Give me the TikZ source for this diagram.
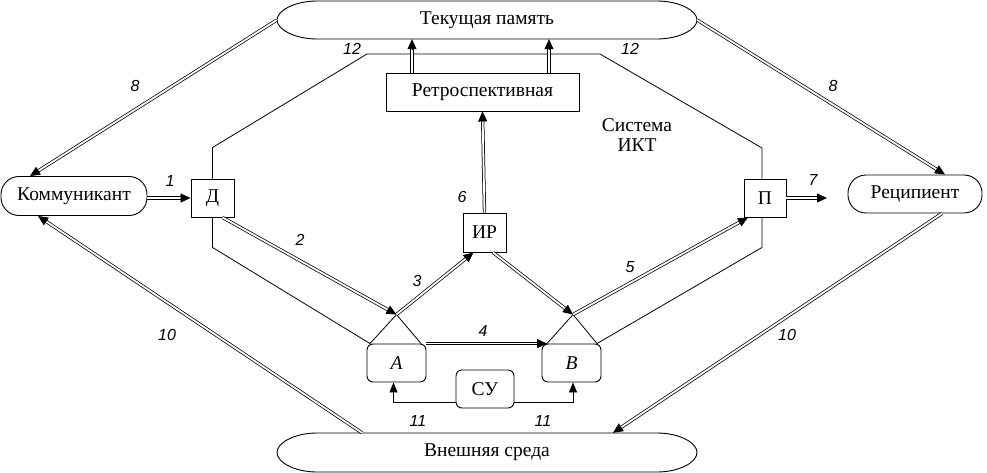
\documentclass[tikz,border=0pt]{standalone}
\usepackage{fontspec}
\setmainfont{Liberation Serif}
\newfontfamily\numfont{Liberation Sans}
\usetikzlibrary{arrows.meta,calc}
\newcommand\dar[2]{%
  \draw[dblline] (#1) -- ($(#2)!9pt!(#1)$);
  \draw[tipl] ($(#2)!10pt!(#1)$) -- (#2);}
\begin{document}
\begin{tikzpicture}[x=1pt,y=-1pt,
  every node/.style={font=\fontsize{19.5}{22}\selectfont},
  bx/.style={draw, line width=0.9pt, inner sep=0pt},
  rbx/.style={bx, rounded corners=6pt},
  stad/.style={bx, rounded corners=18pt},
  dblline/.style={double, double distance=1.8pt, line width=0.75pt},
  tipl/.style={line width=0.8pt, -{Triangle[length=10pt,width=9pt]}},
  thn/.style={line width=0.8pt},
  tarr/.style={thn, -{Triangle[length=10pt,width=8pt]}},
  lbl/.style={font=\numfont\itshape\fontsize{16}{16}\selectfont},
  txt/.style={font=\fontsize{19.5}{22}\selectfont}]
\useasboundingbox (0,0) rectangle (987,473);
% big ellipses
\node[inner sep=0, minimum width=420pt, minimum height=38pt] (tm) at (487,20) {Текущая память};
\node[inner sep=0, minimum width=420pt, minimum height=39pt] (ext) at (487,452.5) {Внешняя среда};
\draw[line width=0.9pt] (317,1) -- (657,1) .. controls (679,1) and (697,10.5) .. (697,20)
  .. controls (697,29.5) and (679,39) .. (657,39) -- (317,39)
  .. controls (295,39) and (277,29.5) .. (277,20) .. controls (277,10.5) and (295,1) .. cycle;
\draw[line width=0.9pt] (317,433) -- (657,433) .. controls (679,433) and (697,442.5) .. (697,452.5)
  .. controls (697,462.5) and (679,472) .. (657,472) -- (317,472)
  .. controls (295,472) and (277,462.5) .. (277,452.5) .. controls (277,442.5) and (295,433) .. cycle;
% nodes
\node[stad, minimum width=146pt, minimum height=39pt] (K) at (74,196) {Коммуникант};
\node[stad, minimum width=134pt, minimum height=38pt] (R) at (915,194) {Реципиент};
\node[bx, minimum width=43pt, minimum height=38pt] (D) at (212.5,198) {Д};
\node[bx, minimum width=42pt, minimum height=38pt] (P) at (765,198) {П};
\node[bx, minimum width=43pt, minimum height=39pt] (IR) at (484.5,232.5) {ИР};
\node[bx, minimum width=193pt, minimum height=38pt] (Ret) at (482.5,92) {Ретроспективная};
\node[rbx, minimum width=59pt, minimum height=38pt] (A) at (396.5,363) {\itshape A};
\node[rbx, minimum width=59pt, minimum height=38pt] (B) at (571.5,363) {\itshape B};
\node[rbx, minimum width=58pt, minimum height=38pt] (SU) at (485,389) {СУ};
% triangles on A and B
\coordinate (Aap) at ($(A.north)+(0,-29)$);
\coordinate (Al) at ($(A.north)+(-26.5,0)$);
\coordinate (Ar) at ($(A.north)+(24.5,0)$);
\coordinate (Bap) at ($(B.north)+(1.5,-29)$);
\coordinate (Bl) at ($(B.north)+(-24.5,0)$);
\coordinate (Br) at ($(B.north)+(25.5,0)$);
\draw[thn] (Al) -- (Aap) -- (Ar);
\draw[thn] (Bl) -- (Bap) -- (Br);
% system boundary (12)
\draw[thn] (D.north) -- ++(0,-31) -- (367,54) -- (600,54) -- (762,148) coordinate (pc) -- (pc |- P.north);
\draw[thn] (D.south) -- ++(0,30) -- (Al);
\draw[thn] ($(P.south)+(-3,0)$) -- ++(0,30) -- (Br);
% connector end points
\coordinate (c1s) at (D.west -| K.east);
\coordinate (kn) at ($(K.north)+(-44,0)$);
\coordinate (rn) at ($(R.north)+(30,0)$);
\coordinate (en1) at ($(ext.north)+(-125,0)$);
\coordinate (ks) at ($(K.south)+(-36,0)$);
\coordinate (rs) at ($(R.south)+(27,0)$);
\coordinate (en2) at ($(ext.north)+(126,0)$);
\coordinate (ds) at ($(D.south)+(10,0)$);
\coordinate (irl) at ($(IR.south)+(-11,0)$);
\coordinate (irr) at ($(IR.south)+(8.5,0)$);
\coordinate (ps) at ($(P.south)+(-17,0)$);
\coordinate (r1) at ($(Ret.north)+(-70.5,0)$);
\coordinate (r2) at ($(Ret.north)+(66.5,0)$);
\coordinate (t1) at (r1 |- tm.south);
\coordinate (t2) at (r2 |- tm.south);
\coordinate (out7) at (827,198);
% double arrows
\dar{c1s}{D.west}
\dar{tm.west}{kn}
\dar{tm.east}{rn}
\dar{en1}{ks}
\dar{rs}{en2}
\dar{ds}{Aap}
\dar{Aap}{irl}
\dar{irr}{Bap}
\dar{Bap}{ps}
\dar{A.north east}{Bl}
\dar{IR.north}{Ret.south}
\dar{r1}{t1}
\dar{r2}{t2}
\dar{P.east}{out7}
% control arrows 11
\draw[tarr] ($(SU.west)+(0,13)$) -| ($(A.south)+(-3,0)$);
\draw[tarr] ($(SU.east)+(0,13)$) -| ($(B.south)+(1.5,0)$);
% labels
\node[lbl] (l1) at (170,181) {1};
\node[lbl] (l2) at (300,240) {2};
\node[lbl] (l3) at (417,281) {3};
\node[lbl] (l4) at (483,331) {4};
\node[lbl] (l5) at (630,267) {5};
\node[lbl] (l6) at (462,197) {6};
\node[lbl] (l7) at (813,180) {7};
\node[lbl] (l8a) at (135,86) {8};
\node[lbl] (l8b) at (833,86) {8};
\node[lbl] (l10a) at (167,335) {10};
\node[lbl] (l10b) at (787,335) {10};
\node[lbl] (l11a) at (418,421) {11};
\node[lbl] (l11b) at (543,421) {11};
\node[lbl] (l12a) at (352,49) {12};
\node[lbl] (l12b) at (630,49) {12};
\node[txt] (sys1) at (637,125) {Система};
\node[txt] (sys2) at (637,145) {ИКТ};
\end{tikzpicture}
\end{document}
